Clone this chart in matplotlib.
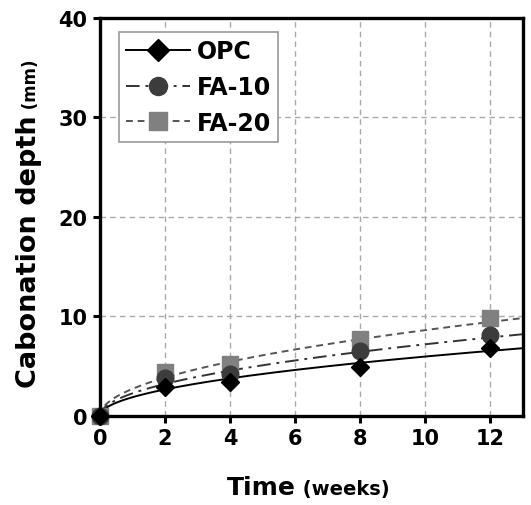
import matplotlib.pyplot as plt
import numpy as np

# measured points (weeks, mm)
weeks = [0, 2, 4, 8, 12]
opc = [0.0, 2.9, 3.4, 4.9, 6.8]
fa10 = [0.0, 3.8, 4.2, 6.5, 8.1]
fa20 = [0.0, 4.4, 5.2, 7.7, 9.8]

# fitted curves d = k * sqrt(t), k at t = 13
k_opc = 1.89
k_fa10 = 2.28
k_fa20 = 2.73

t = np.linspace(0, 13, 300)

plt.rcParams['font.family'] = 'DejaVu Sans'
plt.rcParams['font.weight'] = 'bold'

fig = plt.figure(figsize=(5.31, 5.06), dpi=100)
ax = fig.add_axes([0.1883, 0.1759, 0.7967, 0.7866])

ax.plot(t, k_opc * np.sqrt(t), color='black', lw=1.4, ls='-')
ax.plot(t, k_fa10 * np.sqrt(t), color='#333333', lw=1.4, ls=(0, (7, 3, 1.5, 3)))
ax.plot(t, k_fa20 * np.sqrt(t), color='#555555', lw=1.4, ls=(0, (3.5, 2.5)))

ax.plot(weeks, fa20, ls='none', marker='s', ms=12, color='#808080', clip_on=False, zorder=3)
ax.plot(weeks, fa10, ls='none', marker='o', ms=12, color='#3c3c3c', clip_on=False, zorder=4)
ax.plot(weeks, opc, ls='none', marker='D', ms=9, color='black', clip_on=False, zorder=5)

# legend proxies
h1, = ax.plot([], [], color='black', lw=1.4, marker='D', ms=11)
h2, = ax.plot([], [], color='#333333', lw=1.4, ls=(0, (7, 3, 1.5, 3)), marker='o', ms=13, mfc='#3c3c3c', mec='#3c3c3c')
h3, = ax.plot([], [], color='#555555', lw=1.4, ls=(0, (3.5, 2.5)), marker='s', ms=13, mfc='#808080', mec='#808080')
leg = ax.legend([h1, h2, h3], ['OPC', 'FA-10', 'FA-20'], loc='upper left',
                bbox_to_anchor=(0.045, 0.965), borderaxespad=0, fancybox=False,
                edgecolor='#999999', framealpha=1, prop={'size': 17, 'weight': 'bold'},
                handlelength=2.7, handletextpad=0.3, labelspacing=0.5,
                borderpad=0.3)
leg.get_frame().set_linewidth(1.2)

ax.set_xlim(0, 13)
ax.set_ylim(0, 40)
ax.set_xticks([0, 2, 4, 6, 8, 10, 12])
ax.set_yticks([0, 10, 20, 30, 40])
ax.grid(True, ls=(0, (4, 3)), color='#aaaaaa', lw=1)
ax.set_axisbelow(True)
for s in ax.spines.values():
    s.set_linewidth(2.4)
ax.tick_params(direction='out', length=5, width=2.2, labelsize=15, pad=4)
for lab in ax.get_xticklabels() + ax.get_yticklabels():
    lab.set_fontweight('bold')

# axis labels with smaller unit text
fig.text(0.557, 0.022, 'Time', ha='right', va='baseline', fontsize=18, fontweight='bold')
fig.text(0.557, 0.022, ' (weeks)', ha='left', va='baseline', fontsize=14, fontweight='bold')
fig.text(0.067, 0.772, 'Cabonation depth', ha='right', va='baseline', rotation=90,
         rotation_mode='anchor', fontsize=19.5, fontweight='bold')
fig.text(0.067, 0.772, ' (mm)', ha='left', va='baseline', rotation=90,
         rotation_mode='anchor', fontsize=12, fontweight='bold')

fig.savefig('out.png', dpi=100)
